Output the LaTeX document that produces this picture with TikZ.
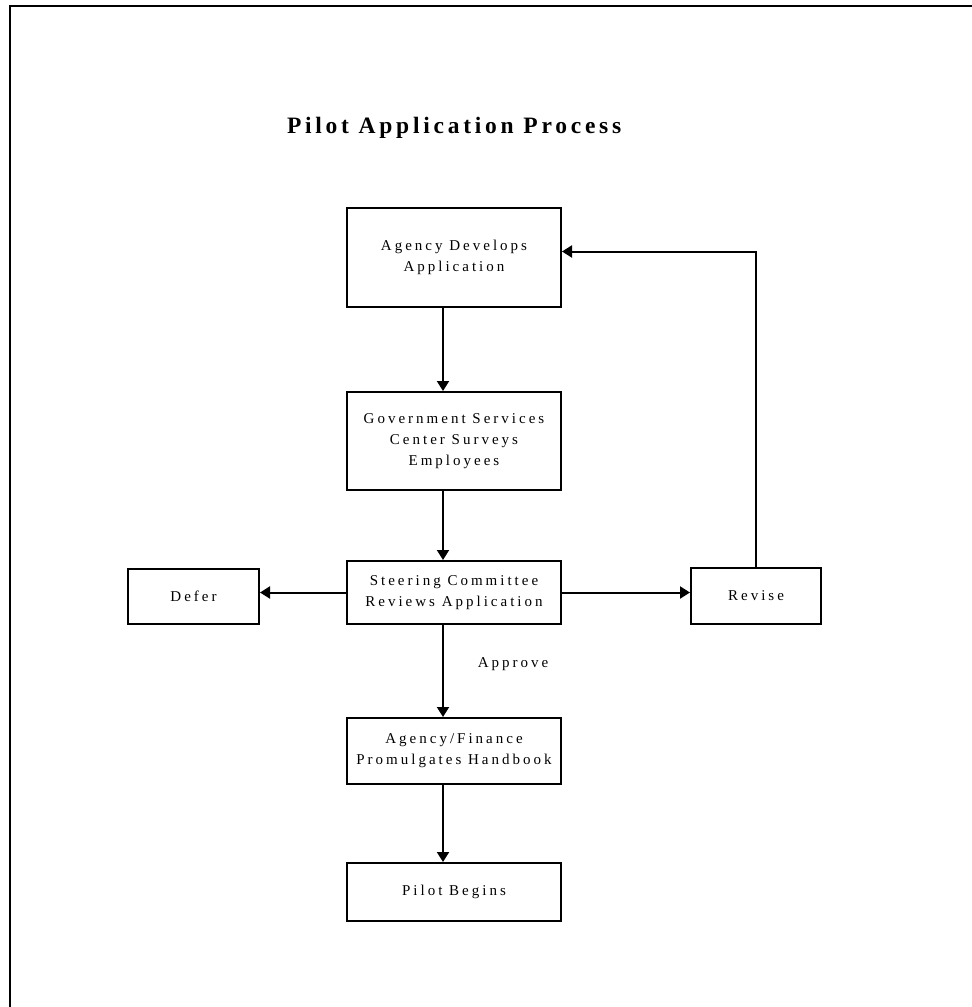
\documentclass[tikz,border=0pt]{standalone}
\usepackage{fontspec}
\setmainfont{Liberation Serif}
\newfontfamily\boxfont[LetterSpace=20]{Liberation Serif}
\newfontfamily\titlefont[LetterSpace=16]{Liberation Serif}
\usetikzlibrary{arrows.meta}

\begin{document}
\begin{tikzpicture}[x=1pt, y=-1pt, >={Triangle[length=10pt, width=12pt]}, line width=2pt]
\tikzset{
  box/.style={draw, rectangle, align=center, inner sep=0pt, line width=2pt,
    font=\boxfont\fontsize{15}{21}\selectfont},
  lbl/.style={font=\boxfont\fontsize{15}{21}\selectfont, inner sep=0pt},
  link/.style={->, line width=2pt},
}

\useasboundingbox (0,0) rectangle (972,1007);
%\draw [lightgray, dashed](0,0) grid[step=50] (972,1007);

\draw [line width=2.5pt] (10,1007) -- (10,6) -- (972,6);

\node [anchor=base west, inner sep=0pt, font=\titlefont\bfseries\fontsize{23.5}{28}\selectfont]
  (T) at (286,133) {Pilot Application Process};

\node [box, minimum width=214pt, minimum height=99pt] (A) at (454,257.5) {Agency Develops\\Application};
\node [box, minimum width=214pt, minimum height=98pt] (G) at (454,441) {Government Services\\Center Surveys\\Employees};
\node [box, minimum width=214pt, minimum height=63pt] (S) at (454,592.5) {Steering Committee\\Reviews Application};
\node [box, minimum width=131pt, minimum height=55pt] (D) at (193.5,596.5) {Defer};
\node [box, minimum width=130pt, minimum height=56pt] (R) at (756,596) {Revise};
\node [box, minimum width=214pt, minimum height=66pt] (H) at (454,751) {Agency/Finance\\Promulgates Handbook};
\node [box, minimum width=214pt, minimum height=58pt] (P) at (454,892) {Pilot Begins};

\node [lbl] (AP) at (513,664) {Approve};

\draw [link] ([xshift=-11pt]A.south) -- ([xshift=-11pt]G.north);
\draw [link] ([xshift=-11pt]G.south) -- ([xshift=-11pt]S.north);
\draw [link] ([xshift=-11pt]S.south) -- ([xshift=-11pt]H.north);
\draw [link] ([xshift=-11pt]H.south) -- ([xshift=-11pt]P.north);

\draw [link] (S.west) -- (S.west -| D.east);
\draw [link] (S.east) -- (S.east -| R.west);
\draw [link] (R.north) |- ([yshift=6pt]A.east);
\end{tikzpicture}
\end{document}
